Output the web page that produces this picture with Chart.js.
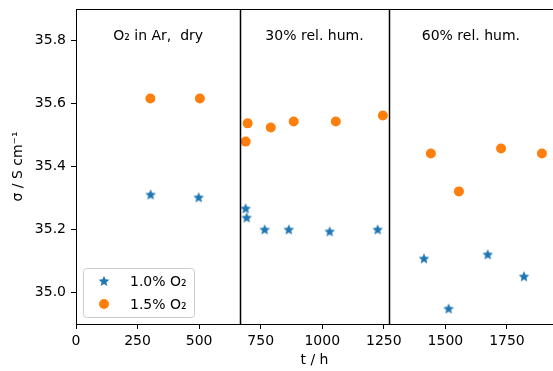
<!DOCTYPE html>
<html><head><meta charset="utf-8">
<script src="https://cdn.jsdelivr.net/npm/chart.js@4"></script>
<style>html,body{margin:0;padding:0;background:#fff;overflow:hidden}</style>
</head><body>
<canvas id="c" width="553" height="371"></canvas>
<script>
const t1 = [303, 498, 689, 693, 766, 864, 1030, 1225, 1413, 1513, 1672, 1819];
const s1 = [35.311, 35.302, 35.267, 35.238, 35.200, 35.200, 35.194, 35.200, 35.108, 34.949, 35.121, 35.051];
const t15 = [302, 503, 689, 697, 791, 884, 1055, 1246, 1441, 1555, 1726, 1892];
const s15 = [35.616, 35.616, 35.479, 35.537, 35.524, 35.543, 35.543, 35.562, 35.441, 35.321, 35.457, 35.441];
const dividers = [667, 1270];
const regionLabels = ['O₂ in Ar,  dry', '30% rel. hum.', '60% rel. hum.'];
const xTicks = [0, 250, 500, 750, 1000, 1250, 1500, 1750];
const yTicks = [35.0, 35.2, 35.4, 35.6, 35.8];
const seriesNames = ['1.0% O₂', '1.5% O₂'];
const xTitle = 't / h';
const yTitle = 'σ / S cm⁻¹';

const BLUE = '#1f77b4', ORANGE = '#ff7f0e';
const FONT = '"DejaVu Sans", sans-serif';
const FS = 14;

function makeStar(size, color) {
  const c = document.createElement('canvas');
  c.width = size; c.height = size;
  const g = c.getContext('2d');
  const cx = size / 2, cy = size / 2 + 0.4, R = size / 2 - 0.4, r = R * 0.45;
  g.beginPath();
  for (let i = 0; i < 10; i++) {
    const a = -Math.PI / 2 + i * Math.PI / 5;
    const rr = i % 2 === 0 ? R : r;
    const px = cx + rr * Math.cos(a), py = cy + rr * Math.sin(a);
    i === 0 ? g.moveTo(px, py) : g.lineTo(px, py);
  }
  g.closePath();
  g.fillStyle = color; g.fill();
  return c;
}
const starImg = makeStar(12, BLUE);

const toPts = (xs, ys) => xs.map((x, i) => ({x: x, y: ys[i]}));

const decor = {
  id: 'decor',
  afterDatasetsDraw(chart) {
    const {ctx, chartArea: a, scales: {x, y}} = chart;
    ctx.save();
    ctx.strokeStyle = '#000'; ctx.lineWidth = 1;
    ctx.beginPath(); ctx.moveTo(a.left, a.top + 0.5); ctx.lineTo(a.right, a.top + 0.5); ctx.stroke();
    ctx.lineWidth = 1.5;
    dividers.forEach(d => {
      const px = Math.round(x.getPixelForValue(d)) + 0.5;
      ctx.beginPath(); ctx.moveTo(px, a.top); ctx.lineTo(px, a.bottom); ctx.stroke();
    });
    const bounds = [x.min, ...dividers, x.max];
    ctx.fillStyle = '#000'; ctx.font = FS + 'px ' + FONT;
    ctx.textAlign = 'center'; ctx.textBaseline = 'middle';
    regionLabels.forEach((lab, i) => {
      const mid = (bounds[i] + bounds[i + 1]) / 2;
      ctx.fillText(lab, x.getPixelForValue(mid), 36);
    });
    ctx.fillText(xTitle, (a.left + a.right) / 2, 360);
    ctx.save();
    ctx.translate(18, (a.top + a.bottom) / 2);
    ctx.rotate(-Math.PI / 2);
    ctx.fillText(yTitle, 0, 0);
    ctx.restore();
    const lx = 83.5, ly = 268.5, lw = 111, lh = 49, rad = 3;
    ctx.beginPath();
    ctx.moveTo(lx + rad, ly); ctx.lineTo(lx + lw - rad, ly); ctx.quadraticCurveTo(lx + lw, ly, lx + lw, ly + rad);
    ctx.lineTo(lx + lw, ly + lh - rad); ctx.quadraticCurveTo(lx + lw, ly + lh, lx + lw - rad, ly + lh);
    ctx.lineTo(lx + rad, ly + lh); ctx.quadraticCurveTo(lx, ly + lh, lx, ly + lh - rad);
    ctx.lineTo(lx, ly + rad); ctx.quadraticCurveTo(lx, ly, lx + rad, ly);
    ctx.closePath();
    ctx.fillStyle = 'rgba(255,255,255,0.8)'; ctx.fill();
    ctx.strokeStyle = '#cccccc'; ctx.lineWidth = 1; ctx.stroke();
    ctx.drawImage(starImg, 104 - 6, 281 - 6);
    ctx.beginPath(); ctx.arc(104, 304, 5, 0, Math.PI * 2); ctx.fillStyle = ORANGE; ctx.fill();
    ctx.fillStyle = '#000'; ctx.textAlign = 'left';
    ctx.fillText(seriesNames[0], 130, 282);
    ctx.fillText(seriesNames[1], 130, 305);
    ctx.restore();
  }
};

new Chart(document.getElementById('c'), {
  type: 'scatter',
  data: {
    datasets: [
      {label: seriesNames[0], data: toPts(t1, s1), pointStyle: starImg, pointRadius: 6, backgroundColor: BLUE, borderColor: BLUE},
      {label: seriesNames[1], data: toPts(t15, s15), pointStyle: 'circle', pointRadius: 5, borderWidth: 0, backgroundColor: ORANGE, borderColor: ORANGE}
    ]
  },
  options: {
    responsive: false, animation: false, devicePixelRatio: 1,
    layout: {autoPadding: false, padding: {top: 9, right: 0, left: 0, bottom: 0}},
    plugins: {legend: {display: false}, tooltip: {enabled: false}},
    scales: {
      x: {
        type: 'linear', min: 0, max: 1937,
        afterBuildTicks: s => { s.ticks = xTicks.map(v => ({value: v})); },
        afterFit: s => { s.height = 47; s.paddingRight = 0; s.paddingLeft = 0; },
        grid: {drawOnChartArea: false, drawTicks: true, tickLength: 5, tickColor: '#000', tickWidth: 1},
        border: {display: true, color: '#000', width: 1},
        ticks: {color: '#000', font: {family: FONT, size: FS}, padding: 4, maxRotation: 0, autoSkip: false,
                callback: v => String(v)}
      },
      y: {
        type: 'linear', min: 34.9, max: 35.9,
        afterBuildTicks: s => { s.ticks = yTicks.map(v => ({value: v})); },
        afterFit: s => { s.width = 76; s.paddingTop = 0; s.paddingBottom = 0; },
        grid: {drawOnChartArea: false, drawTicks: true, tickLength: 5, tickColor: '#000', tickWidth: 1},
        border: {display: true, color: '#000', width: 1},
        ticks: {color: '#000', font: {family: FONT, size: FS}, padding: 5, autoSkip: false,
                callback: v => v.toFixed(1)}
      }
    }
  },
  plugins: [decor]
});
</script>
</body></html>
